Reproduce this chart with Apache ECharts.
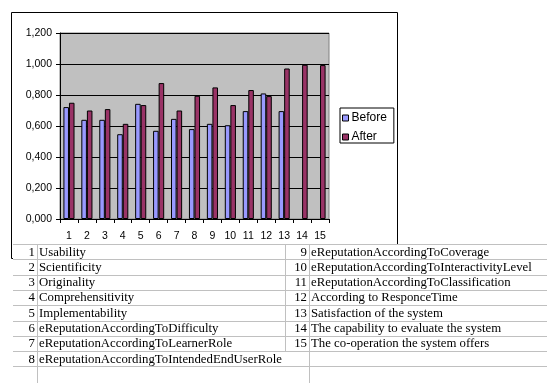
<!DOCTYPE html>
<html>
<head>
<meta charset="utf-8">
<script src="https://cdn.jsdelivr.net/npm/echarts@6/dist/echarts.min.js"></script>
<style>
html,body{margin:0;padding:0;background:#fff;}
#c{width:547px;height:383px;}
</style>
</head>
<body>
<div id="c"></div>
<script>
// ---- data ----
const categories = ['1','2','3','4','5','6','7','8','9','10','11','12','13','14','15'];
const before = [0.722, 0.640, 0.640, 0.547, 0.743, 0.569, 0.646, 0.580, 0.614, 0.605, 0.696, 0.810, 0.696, null, null];
const after  = [0.750, 0.700, 0.709, 0.614, 0.735, 0.877, 0.700, 0.795, 0.849, 0.735, 0.832, 0.793, 0.971, 0.995, 0.993];
const seriesNames = ['Before', 'After'];
const yTicks = [0, 0.2, 0.4, 0.6, 0.8, 1.0, 1.2];
const tableLabels = [
  'Usability','Scientificity','Originality','Comprehensitivity','Implementability',
  'eReputationAccordingToDifficulty','eReputationAccordingToLearnerRole','eReputationAccordingToIntendedEndUserRole',
  'eReputationAccordingToCoverage','eReputationAccordingToInteractivityLevel','eReputationAccordingToClassification',
  'According to ResponceTime','Satisfaction of the system','The capability to evaluate the system','The co-operation the system offers'
];

// ---- layout ----
const W = 547, H = 383;
const tableTop = 244, rowH = 15.3, leftRows = 8;
const lineCol = '#c0c0c0';
const serif = '"Liberation Serif","Times New Roman",serif';
const sans = '"Liberation Sans",Arial,sans-serif';

const graphics = [];
// outer chart frame
graphics.push({type:'rect', shape:{x:11.5,y:12.5,width:386,height:246}, style:{fill:'#fff',stroke:'#000',lineWidth:1}, z:-10, silent:true});
// table background cover
graphics.push({type:'rect', shape:{x:13,y:tableTop,width:W-13,height:H-tableTop}, style:{fill:'#fff'}, z:100, silent:true});
// horizontal lines
for (let i = 0; i <= leftRows; i++) {
  const y = Math.round(tableTop + i*rowH) + 0.5;
  graphics.push({type:'line', shape:{x1:13,y1:y,x2:W,y2:y}, style:{stroke:lineCol,lineWidth:1}, z:101, silent:true});
}
// vertical separators
const vSep = [
  {x:37.5, y1:tableTop, y2:H},
  {x:285.5, y1:tableTop, y2:Math.round(tableTop+7*rowH)},
  {x:309.5, y1:tableTop, y2:H}
];
vSep.forEach(v => graphics.push({type:'line', shape:{x1:v.x,y1:v.y1,x2:v.x,y2:v.y2}, style:{stroke:lineCol,lineWidth:1}, z:101, silent:true}));
// texts
tableLabels.forEach((lab, i) => {
  const left = i < leftRows;
  const r = left ? i : i - leftRows;
  const cy = tableTop + r*rowH + rowH/2 + 0.5;
  graphics.push({type:'text', x: left ? 35 : 307, y: cy, style:{text:String(i+1), font:'12.8px '+serif, fill:'#000', align:'right', verticalAlign:'middle'}, z:102, silent:true});
  graphics.push({type:'text', x: left ? 39 : 311, y: cy, style:{text:lab, font:'12.8px '+serif, fill:'#000', align:'left', verticalAlign:'middle'}, z:102, silent:true});
});

const chart = echarts.init(document.getElementById('c'), null, {renderer:'canvas', width:W, height:H});
chart.setOption({
  backgroundColor: '#fff',
  animation: false,
  grid: {left:60, right:W-329, top:33, bottom:H-219, show:true, backgroundColor:'#c0c0c0', borderColor:'#808080', borderWidth:1},
  legend: {
    orient:'vertical', left:340, top:108, data: seriesNames,
    itemWidth:6, itemHeight:6, itemGap:7,
    padding:[4,7,0,2],
    borderColor:'#000', borderWidth:1, backgroundColor:'#fff',
    icon:'rect',
    itemStyle:{borderColor:'#000', borderWidth:1},
    textStyle:{fontFamily:sans, fontSize:12, color:'#000', lineHeight:12, padding:[0,0,0,-2]}
  },
  xAxis: {
    type:'category', data: categories, boundaryGap:true,
    axisLine:{show:true, lineStyle:{color:'#000', width:1}},
    axisTick:{show:true, length:4, inside:false, lineStyle:{color:'#000'}},
    axisLabel:{fontFamily:sans, fontSize:10.5, color:'#000', margin:12, interval:0},
    splitLine:{show:false}
  },
  yAxis: {
    type:'value', min: yTicks[0], max: yTicks[yTicks.length-1], interval:0.2,
    axisLine:{show:true, lineStyle:{color:'#000', width:1}},
    axisTick:{show:true, length:4, lineStyle:{color:'#000'}},
    axisLabel:{fontFamily:sans, fontSize:10.5, color:'#000', margin:8, formatter: v => v.toFixed(3).replace('.', ',')},
    splitLine:{show:true, lineStyle:{color:'#000', width:1}}
  },
  series: [
    {name:seriesNames[0], type:'bar', data: before, barGap:'0%', barCategoryGap:'38%',
     itemStyle:{color:'#9999ff', borderColor:'#000', borderWidth:1}},
    {name:seriesNames[1], type:'bar', data: after, barGap:'0%', barCategoryGap:'38%',
     itemStyle:{color:'#993366', borderColor:'#000', borderWidth:1}}
  ],
  graphic: graphics
});
</script>
</body>
</html>
